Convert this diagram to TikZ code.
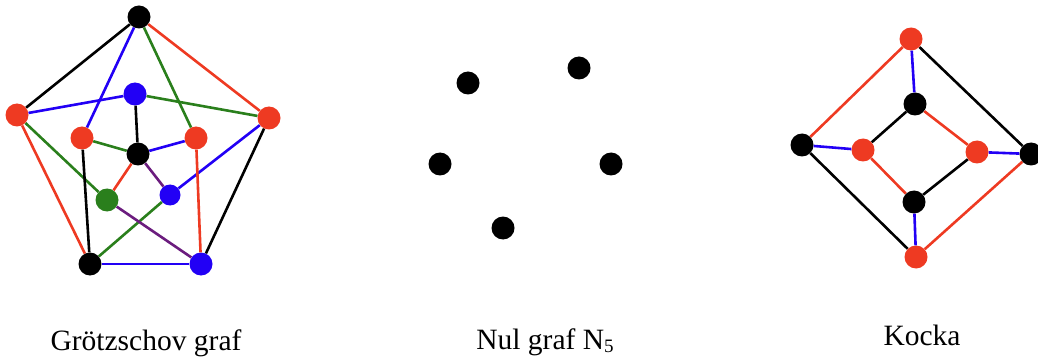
\documentclass[tikz,border=0pt]{standalone}
\usepackage{fontspec}
\setmainfont{Liberation Serif}
\usepackage{tikz}
\usetikzlibrary{positioning}
\usepackage{xcolor}
\definecolor{gred}{HTML}{EE3A22}
\definecolor{gblue}{HTML}{2200F5}
\definecolor{ggreen}{HTML}{2A7F1C}
\definecolor{gpurple}{HTML}{6B1C7E}

\begin{document}
\begin{tikzpicture}[x=1pt, y=-1pt, vert/.style={circle, fill=#1, inner sep=0pt, minimum size=23pt}, vert/.default=black, edge/.style={draw=#1, line width=2.6pt}, edge/.default=black, lab/.style={font=\fontsize{29.5}{32}\selectfont, anchor=base, inner sep=0pt}]
\useasboundingbox (0,0) rectangle (1038,358);
% Groetzsch graph
\node[vert] (top) at (139,17) {};
\node[vert=gred] (left) at (17,115) {};
\node[vert=gred] (right) at (269,118) {};
\node[vert] (botl) at (90,264) {};
\node[vert=gblue] (botr) at (201,264) {};
\node[vert=gblue] (inb) at (135,94) {};
\node[vert=gred] (inl) at (82,138) {};
\node[vert=gred] (inr) at (196,138) {};
\node[vert] (mid) at (138,154) {};
\node[vert=ggreen] (ing) at (107,200) {};
\node[vert=gblue, minimum size=21pt] (inbr) at (170,195) {};
\draw[edge] (top) -- (left);
\draw[edge=gred] (top) -- (right);
\draw[edge=gred] (left) -- (botl);
\draw[edge] (right) -- (botr);
\draw[edge=gblue] (botl) -- (botr);
\draw[edge=gblue] (top) -- (inl);
\draw[edge=ggreen] (top) -- (inr);
\draw[edge=gblue] (left) -- (inb);
\draw[edge=ggreen] (right) -- (inb);
\draw[edge=ggreen] (left) -- (ing);
\draw[edge=gblue] (right) -- (inbr);
\draw[edge] (botl) -- (inl);
\draw[edge=gred] (botr) -- (inr);
\draw[edge=ggreen] (botl) -- (inbr);
\draw[edge=gpurple] (botr) -- (ing);
\draw[edge] (mid) -- (inb);
\draw[edge=ggreen] (mid) -- (inl);
\draw[edge=gblue] (mid) -- (inr);
\draw[edge=gred] (mid) -- (ing);
\draw[edge=gpurple] (mid) -- (inbr);
\node[lab] (gname) at (146,350) {Grötzschov graf};
% null graph N5
\node[vert] (n1) at (468,83) {};
\node[vert] (n2) at (579,68) {};
\node[vert] (n3) at (440,164) {};
\node[vert] (n4) at (611,164) {};
\node[vert] (n5) at (503,228) {};
\node[lab] (nname) at (545,349) {Nul graf N\raisebox{-0.25ex}{\fontsize{19}{20}\selectfont 5}};
% cube
\node[vert=gred] (ctop) at (911,39) {};
\node[vert] (citop) at (915,104) {};
\node[vert] (cleft) at (802,145) {};
\node[vert=gred] (cil) at (863,150) {};
\node[vert=gred] (cir) at (977,152) {};
\node[vert] (cright) at (1031,154) {};
\node[vert] (cib) at (914,202) {};
\node[vert=gred] (cbot) at (916,257) {};
\draw[edge=gred] (ctop) -- (cleft);
\draw[edge] (ctop) -- (cright);
\draw[edge] (cleft) -- (cbot);
\draw[edge=gred] (cright) -- (cbot);
\draw[edge=gblue] (ctop) -- (citop);
\draw[edge=gblue] (cleft) -- (cil);
\draw[edge=gblue] (cright) -- (cir);
\draw[edge=gblue] (cbot) -- (cib);
\draw[edge] (citop) -- (cil);
\draw[edge=gred] (citop) -- (cir);
\draw[edge=gred] (cil) -- (cib);
\draw[edge] (cir) -- (cib);
\node[lab] (cname) at (922,345) {Kocka};
\end{tikzpicture}
\end{document}
